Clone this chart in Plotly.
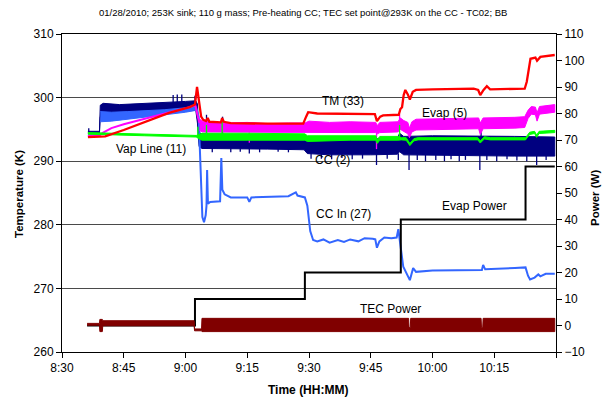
import plotly.graph_objects as go

# Time axis: minutes after 08:30 on 01/28/2010
tick_minutes = [0, 15, 30, 45, 60, 75, 90, 105, 120]
tick_text = ["8:30", "8:45", "9:00", "9:15", "9:30", "9:45", "10:00", "10:15", ""]

# TM (33) temperature, K  (time, value)
tm_33 = [(6.3, 293.8), (9.6, 293.8), (10.5, 293.9), (15.0, 294.9), (20.6, 296.3), (26.0, 297.6),
         (31.0, 298.5), (32.3, 298.9), (32.8, 301.7), (33.3, 299.0), (33.8, 297.0), (34.3, 296.5),
         (35.0, 296.3), (35.4, 296.8), (35.8, 296.2), (38.6, 296.1), (38.9, 296.8), (39.3, 296.2),
         (41.0, 296.0), (50.0, 295.9), (58.6, 295.9), (59.3, 297.0), (59.8, 297.7), (62.0, 297.5),
         (70.0, 297.4), (76.0, 297.4), (76.5, 296.3), (77.3, 297.0), (78.0, 297.2), (81.8, 297.3),
         (82.2, 298.2), (82.6, 298.5), (83.0, 300.4), (83.4, 301.2), (84.0, 300.5), (84.5, 299.7),
         (85.2, 300.9), (86.0, 301.2), (90.0, 301.3), (100.0, 301.4), (101.1, 301.2), (101.6, 300.4),
         (102.4, 301.2), (103.2, 301.8), (104.0, 301.3), (112.4, 301.4), (112.9, 302.5), (113.4, 305.0),
         (113.8, 306.1), (115.0, 306.3), (115.4, 305.8), (116.2, 306.4), (118.0, 306.6), (119.7, 306.7)]

# Evap (5): warm-up trace, then scatter envelope (time, upper, lower)
evap_5_warmup = [(6.3, 294.0), (9.2, 294.1), (10.0, 294.5), (12.0, 295.2), (15.0, 295.8), (20.0, 296.7),
                 (25.0, 297.5), (30.0, 298.3), (32.4, 298.8), (33.0, 297.0), (33.4, 296.0)]
evap_5_band = [(33.4, 296.6, 294.8), (34.2, 296.3, 294.6), (36.0, 296.2, 294.6), (40.0, 296.0, 294.5),
               (45.0, 296.1, 294.5), (50.0, 295.9, 294.5), (55.0, 296.0, 294.5), (59.0, 296.0, 294.5),
               (60.0, 296.3, 294.6), (65.0, 296.1, 294.5), (70.0, 296.2, 294.5), (76.2, 296.1, 294.5),
               (76.6, 295.6, 294.3), (77.2, 296.1, 294.5), (81.6, 296.2, 294.6), (82.2, 296.8, 295.0),
               (83.0, 296.4, 294.7), (84.0, 296.1, 294.3), (84.4, 295.2, 293.7), (85.0, 296.2, 294.6),
               (86.0, 296.6, 294.9), (95.0, 296.7, 295.0), (101.2, 296.8, 295.1), (101.6, 296.0, 294.2),
               (102.3, 296.8, 295.1), (110.0, 296.9, 295.2), (112.4, 297.0, 295.3), (113.2, 298.0, 296.7),
               (114.0, 298.6, 297.4), (115.0, 298.5, 297.3), (115.4, 297.6, 296.3), (116.0, 298.6, 297.4),
               (119.7, 298.9, 297.7)]
evap_5_spikes = [(45.5, 294.5, 292.9), (76.4, 294.5, 291.9), (82.0, 296.5, 297.4)]

# Vap Line (11) envelope (time, upper, lower) and short excursions (time, from, to)
vap_11_band = [(6.3, 294.5, 294.25), (9.2, 294.45, 294.2), (20.0, 294.25, 294.0), (32.6, 294.05, 293.8),
               (33.3, 294.2, 293.5), (34.0, 294.4, 293.3), (45.0, 294.4, 293.3), (59.0, 294.3, 293.3),
               (59.6, 294.0, 293.1), (70.0, 294.0, 293.3), (76.2, 294.0, 293.3), (76.6, 293.4, 292.8),
               (77.2, 293.9, 293.3), (81.6, 293.9, 293.3), (82.4, 293.7, 293.35), (83.6, 293.7, 293.3),
               (84.5, 292.8, 292.45), (85.5, 293.55, 293.2), (86.5, 293.7, 293.35), (101.0, 293.7, 293.35),
               (101.6, 293.2, 292.85), (102.6, 293.85, 293.5), (104.0, 293.7, 293.35), (112.6, 293.7, 293.35),
               (113.6, 294.55, 294.2), (114.8, 294.7, 294.35), (115.3, 294.1, 293.75), (115.9, 294.7, 294.35),
               (119.7, 294.85, 294.5)]
vap_11_spikes = [(33.0, 293.9, 295.4), (35.1, 293.9, 295.7), (38.9, 293.9, 296.4), (82.0, 293.6, 295.7)]

# CC (2) envelope (time, upper, lower) and spikes (time, from, to)
cc_2_band = [(6.3, 294.7, 294.3), (9.1, 294.7, 294.3), (9.3, 298.8, 297.0), (10.0, 299.1, 297.0),
             (14.0, 298.9, 297.1), (18.0, 299.0, 297.3), (22.0, 299.1, 297.5), (26.0, 299.2, 297.7),
             (30.0, 299.4, 297.9), (32.5, 299.5, 298.0), (32.9, 299.0, 296.0), (33.3, 294.5, 292.3),
             (34.0, 294.3, 292.0), (40.0, 294.2, 292.0), (50.0, 294.1, 291.9), (58.8, 294.0, 291.8),
             (59.6, 293.5, 291.2), (65.0, 293.4, 291.0), (75.0, 293.5, 291.0), (81.5, 293.6, 291.1),
             (82.0, 294.4, 291.5), (83.0, 293.9, 291.0), (90.0, 294.0, 290.9), (100.0, 294.0, 290.9),
             (110.0, 293.9, 290.8), (119.7, 293.8, 290.8)]
cc_2_spikes = [(6.5, 294.5, 295.2), (27.0, 299.0, 300.4), (28.0, 299.0, 300.5), (29.1, 299.0, 300.5),
               (32.3, 299.3, 300.3), (35.1, 294.0, 297.3), (39.0, 294.0, 297.0), (101.8, 293.8, 294.9),
               (36.5, 292.2, 291.4), (41.0, 292.0, 291.4), (43.3, 292.0, 291.5), (45.5, 292.0, 291.2),
               (48.0, 292.0, 291.4), (52.5, 292.0, 291.5), (55.0, 292.0, 291.4), (60.5, 291.4, 290.4),
               (63.0, 291.2, 290.4), (65.5, 291.2, 290.3), (68.0, 291.2, 290.5), (70.5, 291.2, 290.3),
               (73.0, 291.2, 290.4), (76.4, 291.2, 289.4), (79.0, 291.2, 290.4), (81.7, 291.2, 290.2),
               (84.3, 291.0, 288.6), (86.3, 291.0, 290.2), (88.3, 291.0, 290.0), (90.8, 291.0, 290.2),
               (92.9, 291.0, 290.0), (94.5, 291.0, 290.3), (96.5, 291.0, 290.0), (98.0, 291.0, 290.2),
               (101.5, 291.0, 288.6), (103.2, 291.0, 290.2), (105.6, 291.0, 290.0), (108.1, 291.0, 290.3),
               (110.5, 291.0, 290.1), (112.9, 291.0, 290.0), (115.3, 291.0, 289.4), (117.6, 291.0, 290.2)]

# CC In (27): start, warm-up envelope, then trace
cc_in_27_start = [(6.3, 294.0), (9.2, 294.0)]
cc_in_27_band = [(9.3, 297.8, 296.2), (12.0, 297.7, 296.3), (16.0, 297.8, 296.6), (20.0, 297.9, 296.9),
                 (25.0, 298.1, 297.3), (30.0, 298.4, 297.7), (32.6, 298.6, 298.0)]
cc_in_27 = [(32.6, 298.3), (33.2, 297.0), (34.1, 281.2), (34.5, 280.4), (34.9, 281.5), (35.1, 283.0),
            (35.25, 288.6), (35.45, 283.3), (36.0, 283.6), (38.4, 283.7), (38.7, 290.5), (38.95, 285.5),
            (39.5, 284.8), (41.0, 284.3), (45.0, 284.3), (45.5, 283.6), (46.0, 284.3), (50.0, 284.4),
            (55.0, 284.5), (56.8, 285.1), (57.2, 284.6), (59.0, 284.3), (59.6, 283.0), (60.3, 279.0),
            (61.0, 277.6), (62.0, 277.4), (63.5, 277.7), (65.0, 277.2), (67.0, 277.6), (68.5, 277.3),
            (70.0, 277.7), (72.0, 277.4), (73.5, 277.9), (75.5, 277.8), (76.1, 277.7), (76.5, 276.4),
            (77.1, 277.4), (78.3, 278.0), (80.0, 277.9), (81.3, 278.0), (81.7, 279.3), (82.9, 273.4),
            (83.7, 272.3), (84.5, 271.3), (85.3, 273.2), (86.0, 272.6), (90.0, 272.8), (95.0, 272.8),
            (100.0, 272.9), (102.0, 272.9), (102.3, 273.7), (102.8, 273.0), (110.0, 273.2), (112.6, 273.3),
            (113.2, 272.0), (113.7, 271.4), (114.8, 271.7), (115.7, 272.2), (116.2, 271.9), (117.5, 272.3),
            (119.7, 272.3)]

# Power, W
evap_power_t = [6.1, 32.3, 59.0, 82.3, 112.6, 119.7]
evap_power_w = [0, 10, 20, 40, 60, 60]
tec_power_band = [(6.1, 0.8, 0.1), (9.1, 0.8, 0.1), (9.2, 2.3, -2.3), (9.8, 2.3, -2.3), (9.9, 1.8, -0.1),
                  (32.1, 1.8, -0.1), (32.2, -1.3, -2.0), (33.9, -1.3, -2.0), (34.0, 2.7, -2.3),
                  (84.2, 2.7, -2.3), (84.3, -0.8, -2.3), (84.6, -0.8, -2.3), (84.7, 2.7, -2.3),
                  (101.8, 2.7, -2.3), (101.9, -0.8, -2.3), (102.2, -0.8, -2.3), (102.3, 2.7, -2.3),
                  (119.7, 2.7, -2.3)]

FONT = "Liberation Sans, Arial, sans-serif"


def band_trace(rows, color, yaxis="y", width=1.0):
    t = [r[0] for r in rows]
    up = [r[1] for r in rows]
    lo = [r[2] for r in rows]
    return go.Scatter(x=t + t[::-1], y=up + lo[::-1], mode="lines", fill="toself",
                      fillcolor=color, line=dict(color=color, width=width),
                      yaxis=yaxis, hoverinfo="skip", showlegend=False)


def line_trace(rows, color, width=2.0, yaxis="y"):
    return go.Scatter(x=[r[0] for r in rows], y=[r[1] for r in rows], mode="lines",
                      line=dict(color=color, width=width), yaxis=yaxis, showlegend=False)


def spike_trace(rows, color, width=1.3):
    xs, ys = [], []
    for t, a, b in rows:
        xs += [t, t, None]
        ys += [a, b, None]
    return go.Scatter(x=xs, y=ys, mode="lines", line=dict(color=color, width=width),
                      showlegend=False, hoverinfo="skip")


NAVY, BLUE, MAGENTA, GREEN, RED, DARKRED = "#000080", "#3366FF", "#FF00FF", "#00FF00", "#FF0000", "#800000"

fig = go.Figure()
fig.add_trace(band_trace(cc_2_band, NAVY))
fig.add_trace(spike_trace(cc_2_spikes, NAVY))
fig.add_trace(line_trace(cc_in_27_start, BLUE))
fig.add_trace(band_trace(cc_in_27_band, BLUE))
fig.add_trace(line_trace(cc_in_27, BLUE))
fig.add_trace(line_trace(evap_5_warmup, MAGENTA))
fig.add_trace(band_trace(evap_5_band, MAGENTA))
fig.add_trace(spike_trace(evap_5_spikes, MAGENTA))
fig.add_trace(band_trace(vap_11_band, GREEN))
fig.add_trace(spike_trace(vap_11_spikes, GREEN))
fig.add_trace(line_trace(tm_33, RED, width=2.3))

fig.add_trace(go.Scatter(x=evap_power_t, y=evap_power_w, mode="lines", line_shape="hv",
                         line=dict(color="black", width=2), yaxis="y2", showlegend=False))
fig.add_trace(band_trace(tec_power_band, DARKRED, yaxis="y2"))

labels = [("TM (33)", 68.3, 299.5), ("Evap (5)", 92.8, 297.6), ("Vap Line (11)", 21.6, 291.9),
          ("CC (2)", 65.6, 290.2), ("CC In (27)", 68.3, 281.7), ("Evap Power", 100.3, 283.0),
          ("TEC Power", 79.7, 266.8)]
for text, x, y in labels:
    fig.add_annotation(x=x, y=y, xref="x", yref="y", text=text, showarrow=False,
                       xanchor="center", yanchor="middle",
                       font=dict(family=FONT, size=12, color="black"))

axis_common = dict(showline=True, linecolor="black", linewidth=1, ticks="outside", ticklen=5,
                   tickcolor="black", tickfont=dict(family=FONT, size=12, color="black"), zeroline=False)

fig.update_layout(
    width=607, height=399,
    margin=dict(l=62, r=51, t=34, b=47),
    paper_bgcolor="white", plot_bgcolor="white",
    font=dict(family=FONT, color="black"),
    showlegend=False,
    xaxis=dict(range=[0, 120], tickvals=tick_minutes, ticktext=tick_text, showgrid=False,
               mirror=True, **axis_common),
    yaxis=dict(range=[260, 310], dtick=10, showgrid=True, gridcolor="#4a4a4a", gridwidth=1,
               **axis_common),
    yaxis2=dict(range=[-10, 110], dtick=10, overlaying="y", side="right", showgrid=False,
                **axis_common),
)

# Chart title and axis titles, placed in plot-area pixel terms
pw, ph = 494.0, 318.0


def px(xp):
    return (xp - 62) / pw


def py(yp):
    return (352 - yp) / ph


def paper_text(x, y, text, size, angle=0):
    fig.add_annotation(x=px(x), y=py(y), xref="paper", yref="paper", showarrow=False,
                       xanchor="center", yanchor="middle", textangle=angle, text=text,
                       font=dict(family=FONT, size=size, color="black"))


paper_text(303, 12, "01/28/2010; 253K sink; 110 g mass; Pre-heating CC; TEC set point@293K on the CC - TC02; BB", 9.5)
paper_text(19, 194, "<b>Temperature (K)</b>", 11.5, -90)
paper_text(595, 198, "<b>Power (W)</b>", 11.5, -90)
paper_text(308, 390, "<b>Time (HH:MM)</b>", 12)

fig.write_html("out.html")
